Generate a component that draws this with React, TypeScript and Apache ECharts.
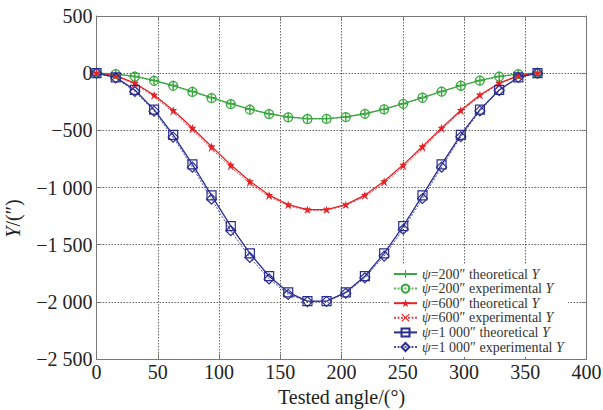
import React, { useEffect, useRef } from "react";
import * as echarts from "echarts";

const angles = [0, 15.7, 31.3, 47, 62.6, 78.3, 93.9, 109.6, 125.2, 140.9, 156.5, 172.2, 187.8, 203.5, 219.1, 234.8, 250.4, 266.1, 281.7, 297.4, 313, 328.7, 344.3, 360];

const g200Theo = [0, -7, -29, -64, -108, -160, -214, -267, -315, -355, -383, -398, -398, -383, -355, -315, -267, -214, -160, -108, -64, -29, -7, 0];
const g200Exp = [0, -8, -31, -67, -111, -164, -219, -271, -319, -358, -386, -401, -400, -385, -356, -316, -268, -215, -162, -110, -65, -30, -8, 0];
const r600Theo = [0, -22, -88, -191, -324, -479, -641, -802, -946, -1066, -1150, -1194, -1194, -1150, -1066, -946, -802, -641, -479, -324, -191, -88, -22, 0];
const r600Exp = [0, -25, -96, -204, -342, -498, -662, -822, -964, -1080, -1160, -1200, -1198, -1158, -1078, -962, -820, -658, -494, -338, -200, -93, -25, 0];
const b1000Theo = [0, -37, -147, -319, -540, -798, -1069, -1337, -1577, -1776, -1917, -1993, -1993, -1917, -1776, -1577, -1337, -1069, -798, -540, -319, -147, -37, 0];
const b1000Exp = [0, -42, -160, -332, -560, -822, -1102, -1378, -1612, -1800, -1935, -1998, -1996, -1925, -1790, -1600, -1365, -1096, -822, -556, -330, -152, -38, 0];

const xTicks = [0, 50, 100, 150, 200, 250, 300, 350, 400];
const yTicks = [500, 0, -500, -1000, -1500, -2000, -2500];

const seriesNames = [
  "ψ=200″ theoretical Y",
  "ψ=200″ experimental Y",
  "ψ=600″ theoretical Y",
  "ψ=600″ experimental Y",
  "ψ=1 000″ theoretical Y",
  "ψ=1 000″ experimental Y",
];

const GREEN = "#3aa83f";
const RED = "#e42328";
const BLUE = "#2a2d8f";
const FONT = "Liberation Serif";

const PLUS = "path://M4.3,0H5.7V4.3H10V5.7H5.7V10H4.3V5.7H0V4.3H4.3Z";
const CROSS = "path://M1,0L5,4L9,0L10,1L6,5L10,9L9,10L5,6L1,10L0,9L4,5L0,1Z";
const STAR = "path://M5,0L6.2,3.4L10,3.4L7,5.6L8.1,9.5L5,7.2L1.9,9.5L3,5.6L0,3.4L3.8,3.4Z";

function fmt(v: number): string {
  const a = Math.abs(v);
  let s = String(a);
  if (a >= 1000) s = s.slice(0, s.length - 3) + " " + s.slice(s.length - 3);
  return (v < 0 ? "−" : "") + s;
}

function pairs(ys: number[]) {
  return angles.map((x, i) => [x, ys[i]]);
}

export default function App() {
  const ref = useRef<HTMLDivElement>(null);
  useEffect(() => {
    const chart = echarts.init(ref.current!, undefined, { renderer: "svg" });
    const mk = (
      name: string,
      ys: number[],
      color: string,
      dashed: boolean,
      symbol: string,
      size: number,
      hollow: boolean
    ) => ({
      name,
      type: "line",
      data: pairs(ys),
      symbol,
      symbolSize: size,
      showAllSymbol: true,
      lineStyle: { color, width: dashed ? 1 : 1.3, type: dashed ? [2, 1.5] : "solid", opacity: dashed ? 0.85 : 1 },
      itemStyle: hollow
        ? { color: "rgba(255,255,255,0)", borderColor: color, borderWidth: 1.2 }
        : { color, borderWidth: 0 },
      emphasis: { disabled: true },
      z: 3,
    });
    const tick = () => ({ show: true, inside: true, length: 5, lineStyle: { color: "#777", width: 1 } });
    const line = () => ({ show: true, onZero: false, lineStyle: { color: "#777", width: 1 } });
    chart.setOption({
      animation: false,
      backgroundColor: "#fff",
      grid: { left: 96.5, right: 16.5, top: 16, bottom: 51, show: false, outerBoundsMode: "none", containLabel: false },
      xAxis: [
        {
          type: "value",
          gridIndex: 0,
          position: "bottom",
          min: 0,
          max: 400,
          interval: 50,
          name: "Tested angle/(°)",
          nameLocation: "middle",
          nameGap: 26,
          nameTextStyle: { fontFamily: FONT, fontSize: 20, color: "#222" },
          axisLine: line(),
          axisTick: tick(),
          axisLabel: { fontFamily: FONT, fontSize: 20, color: "#222", margin: 3, formatter: (v: number) => (xTicks.includes(v) ? fmt(v) : "") },
          splitLine: { show: true, lineStyle: { color: "#666", type: [1.5, 1.5], width: 1 } },
        },
        {
          type: "value",
          gridIndex: 0,
          position: "top",
          min: 0,
          max: 400,
          interval: 50,
          axisLine: line(),
          axisTick: tick(),
          axisLabel: { show: false },
          splitLine: { show: false },
        },
      ],
      yAxis: [
        {
          type: "value",
          gridIndex: 0,
          position: "left",
          min: -2500,
          max: 500,
          interval: 500,
          name: "{i|Y}/(″)",
          nameLocation: "middle",
          nameGap: 74,
          nameRotate: 90,
          nameTextStyle: {
            fontFamily: FONT,
            fontSize: 20,
            color: "#222",
            padding: [0, 62, 0, 0],
            rich: { i: { fontFamily: FONT, fontSize: 20, fontStyle: "italic", color: "#222" } },
          },
          axisLine: line(),
          axisTick: tick(),
          axisLabel: { fontFamily: FONT, fontSize: 20, color: "#222", margin: 4, formatter: (v: number) => (yTicks.includes(v) ? fmt(v) : "") },
          splitLine: { show: true, lineStyle: { color: "#666", type: [1.5, 1.5], width: 1 } },
        },
        {
          type: "value",
          gridIndex: 0,
          position: "right",
          min: -2500,
          max: 500,
          interval: 500,
          axisLine: line(),
          axisTick: tick(),
          axisLabel: { show: false },
          splitLine: { show: false },
        },
      ],
      legend: {
        orient: "vertical",
        left: 389,
        top: 264,
        padding: [3, 4, 3, 4],
        backgroundColor: "#fff",
        itemWidth: 23,
        itemHeight: 10,
        itemGap: 0.6,
        z: 10,
        data: seriesNames,
        formatter: (n: string) => n.replace("ψ", "{i|ψ}").replace(/ Y$/, " {i|Y}"),
        textStyle: {
          fontFamily: FONT,
          fontSize: 14,
          color: "#333",
          lineHeight: 14,
          rich: {
            i: { fontFamily: FONT, fontSize: 14, fontStyle: "italic", color: "#333", lineHeight: 14 },
          },
        },
      },
      series: [
        mk(seriesNames[0], g200Theo, GREEN, false, PLUS, 10, false),
        mk(seriesNames[1], g200Exp, GREEN, true, "circle", 9, true),
        mk(seriesNames[2], r600Theo, RED, false, STAR, 8, false),
        mk(seriesNames[3], r600Exp, RED, true, CROSS, 6, false),
        mk(seriesNames[4], b1000Theo, BLUE, false, "rect", 9, true),
        mk(seriesNames[5], b1000Exp, BLUE, true, "diamond", 10, true),
      ],
    });
    return () => chart.dispose();
  }, []);
  return (
    <div
      ref={ref}
      style={{ position: "fixed", left: 0, top: 0, width: 603, height: 410, background: "#fff" }}
    />
  );
}
